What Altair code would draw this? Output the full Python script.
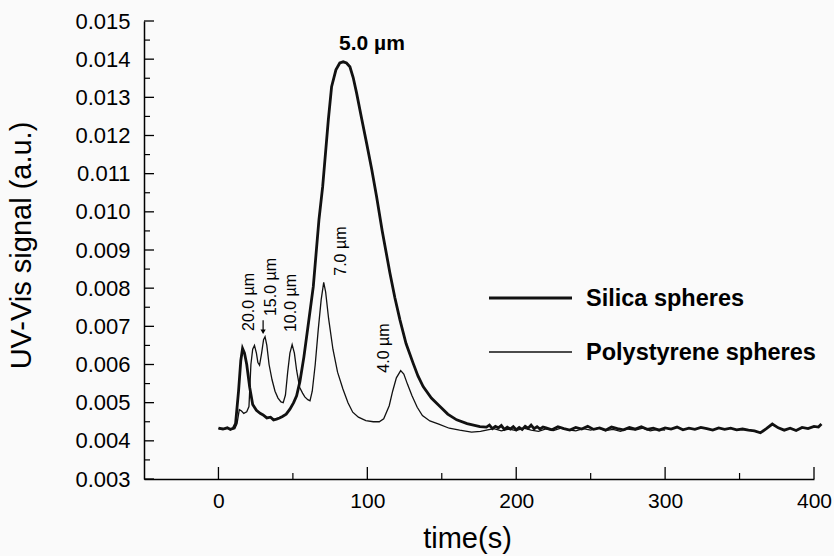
import altair as alt
import pandas as pd

# ---------------- data ----------------
silica_t = [0, 3, 6, 8, 10, 11.5, 13.5, 15, 16.2, 17.5, 19, 21, 23, 25.5, 28, 30, 32.5, 35, 37, 39,
            41, 43, 45.5, 48, 50.5, 52.5, 54.7, 57.4, 60.5, 63.7, 67.5, 70, 73.8, 76, 78.9, 81.5,
            83.8, 86, 88.3, 90.5, 92.8, 96, 99.5, 103, 106.2, 110, 115.2, 118.5, 121.9, 126, 130.8,
            134, 137.5, 143, 148.8, 154, 160, 167, 175.6,
            180, 182, 184, 186, 188, 190, 192, 194, 196, 198, 200, 202, 204, 206, 208, 210, 212, 214,
            216, 218, 220, 224, 228, 232, 236, 240, 244,
            248, 252, 256, 260, 264, 268, 272, 276, 280, 284, 288, 292, 296, 300, 304, 308, 312,
            316, 320, 324, 328, 332, 336, 340, 344, 348, 352, 356, 360, 364, 368, 372, 376, 380,
            384, 388, 392, 396, 400, 403, 405]
silica_v = [0.00433, 0.00431, 0.00434, 0.00430, 0.00433, 0.00445, 0.00530, 0.00610, 0.00642, 0.00630,
            0.00600, 0.00540, 0.00495, 0.00480, 0.00472, 0.00468, 0.00460, 0.00462, 0.00455, 0.00457,
            0.00460, 0.00464, 0.00470, 0.00483, 0.00500, 0.00518, 0.00555, 0.00620, 0.00710, 0.00804,
            0.00979, 0.01066, 0.01241, 0.01328, 0.01372, 0.01390, 0.01393, 0.01390, 0.01380, 0.01352,
            0.01311, 0.01248, 0.01180, 0.01110, 0.01040, 0.00950, 0.00839, 0.00775, 0.00717, 0.00655,
            0.00603, 0.00570, 0.00542, 0.00512, 0.00490, 0.00470, 0.00455, 0.00445, 0.00437,
            0.00436, 0.00441, 0.00432, 0.00438, 0.00434, 0.00440, 0.00430, 0.00436, 0.00431, 0.00437,
            0.00429, 0.00435, 0.00430, 0.00438, 0.00433, 0.00441, 0.00432, 0.00437, 0.00431, 0.00436,
            0.00434, 0.00429, 0.00437, 0.00432, 0.00428, 0.00435, 0.00431, 0.00438, 0.00430, 0.00434,
            0.00428, 0.00436, 0.00432, 0.00429, 0.00435, 0.00431, 0.00437, 0.00430, 0.00433, 0.00428,
            0.00434, 0.00431, 0.00436, 0.00429, 0.00433, 0.00430, 0.00435, 0.00432, 0.00428, 0.00434,
            0.00430, 0.00433, 0.00429, 0.00431, 0.00428, 0.00426, 0.00421, 0.00432, 0.00444, 0.00434,
            0.00428, 0.00433, 0.00427, 0.00435, 0.00432, 0.00438, 0.00436, 0.00444]

poly_t = [0, 3, 6, 9, 11, 12.5, 14, 15.5, 17, 19, 20.5, 21.8, 23, 24.2, 25.5, 26.5, 27.6, 29, 30.3,
          31.3, 32.5, 34, 36, 38, 40, 42, 43.5, 45, 46.5, 48, 49.5, 51, 52.5, 54.5, 56.5, 58, 60,
          61.5, 63, 65, 67, 69, 70.7, 72, 74, 76.9, 80, 83.6, 87, 90.2, 94, 99, 104, 108, 111,
          114.7, 117, 119.5, 122.4, 124.5, 127, 130, 133.5, 137, 142, 148, 155, 162, 170, 176,
          180, 185, 190, 195, 200, 205, 210, 215, 220, 225, 230, 235, 240, 245, 250, 255, 260,
          265, 270, 275, 280, 285, 290, 295, 300]
poly_v = [0.00432, 0.00430, 0.00433, 0.00431, 0.00432, 0.00445, 0.00482, 0.00478, 0.00472, 0.00476,
          0.00490, 0.00600, 0.00640, 0.00650, 0.00630, 0.00605, 0.00598, 0.00630, 0.00665, 0.00673,
          0.00650, 0.00600, 0.00560, 0.00530, 0.00512, 0.00502, 0.00500, 0.00520, 0.00580, 0.00630,
          0.00652, 0.00630, 0.00585, 0.00540, 0.00525, 0.00515, 0.00508, 0.00505, 0.00530, 0.00600,
          0.00690, 0.00770, 0.00815, 0.00790, 0.00720, 0.00640, 0.00580, 0.00536, 0.00500, 0.00475,
          0.00462, 0.00453, 0.00450, 0.00450, 0.00458, 0.00492, 0.00530, 0.00565, 0.00584, 0.00575,
          0.00548, 0.00518, 0.00488, 0.00466, 0.00452, 0.00444, 0.00433, 0.00428, 0.00423, 0.00425,
          0.00428, 0.00432, 0.00426, 0.00431, 0.00427, 0.00433, 0.00428, 0.00425, 0.00431, 0.00427,
          0.00433, 0.00429, 0.00426, 0.00432, 0.00428, 0.00434, 0.00427, 0.00430, 0.00425, 0.00431,
          0.00428, 0.00433, 0.00426, 0.00430, 0.00428]

x_major = [0, 100, 200, 300, 400]
x_minor = [50, 150, 250, 350]
y_major = [0.003, 0.004, 0.005, 0.006, 0.007, 0.008, 0.009, 0.010, 0.011, 0.012, 0.013, 0.014, 0.015]
y_minor = [0.0035, 0.0045, 0.0055, 0.0065, 0.0075, 0.0085, 0.0095, 0.0105, 0.0115, 0.0125, 0.0135, 0.0145]

ann_text = ["20.0 µm", "15.0 µm", "10.0 µm", "7.0 µm", "4.0 µm"]
ann_t = [20.5, 35.3, 48.7, 82.3, 111.1]
ann_v = [0.00764, 0.00803, 0.00761, 0.00897, 0.00643]

main_label = ["5.0 µm"]
main_t = [103.1]
main_v = [0.01440]

arrow_t = [30.0]
arrow_top = [0.00716]
arrow_tip = [0.00686]

legend_names = ["Silica spheres", "Polystyrene spheres"]

# ---------------- chart ----------------
FONT = "Liberation Sans"
xs = alt.Scale(domain=[-50, 400], nice=False, zero=False)
ys = alt.Scale(domain=[0.003, 0.015], nice=False, zero=False)

x_axis = alt.Axis(values=x_major, format="d", ticks=False, grid=False, domainColor="black",
                  domainWidth=1.5, labelFont=FONT, labelFontSize=21, labelColor="black",
                  labelPadding=11, labelFlush=False, labelOverlap=False, title="time(s)",
                  titleFont=FONT, titleFontSize=29, titleFontWeight="normal", titleColor="black",
                  titleX=323, titleY=68, titleBaseline="alphabetic")
y_axis = alt.Axis(values=y_major, format=".3f", ticks=False, grid=False, domainColor="black",
                  domainWidth=1.5, labelFont=FONT, labelFontSize=22, labelColor="black",
                  labelPadding=14, labelOverlap=False, labelFlush=False,
                  title="UV-Vis signal (a.u.)", titleFont=FONT,
                  titleFontSize=29, titleFontWeight="normal", titleColor="black",
                  titleX=-123, titleY=224, titleAngle=270, titleBaseline="middle",
                  titleAlign="center")

silica_df = pd.DataFrame({"t": silica_t, "v": silica_v})
poly_df = pd.DataFrame({"t": poly_t, "v": poly_v})

X = alt.X("t:Q", scale=xs, axis=x_axis)
Y = alt.Y("v:Q", scale=ys, axis=y_axis)

poly_line = alt.Chart(poly_df).mark_line(color="#111", strokeWidth=1.3, clip=False).encode(x=X, y=Y)
silica_line = alt.Chart(silica_df).mark_line(color="#111", strokeWidth=2.8, clip=False).encode(x=X, y=Y)

ytick_major = alt.Chart(pd.DataFrame({"v": y_major})).mark_rule(color="black", strokeWidth=1.3).encode(
    y=Y, x=alt.value(0), x2=alt.value(10))
ytick_minor = alt.Chart(pd.DataFrame({"v": y_minor})).mark_rule(color="black", strokeWidth=1.2).encode(
    y=Y, x=alt.value(0), x2=alt.value(6))
xtick_major = alt.Chart(pd.DataFrame({"t": x_major})).mark_rule(color="black", strokeWidth=1.3).encode(
    x=X, y=alt.value(458), y2=alt.value(446))
xtick_minor = alt.Chart(pd.DataFrame({"t": x_minor})).mark_rule(color="black", strokeWidth=1.2).encode(
    x=X, y=alt.value(458), y2=alt.value(452))

ann = alt.Chart(pd.DataFrame({"t": ann_t, "v": ann_v, "label": ann_text})).mark_text(
    angle=270, font=FONT, fontSize=16, color="black", align="center", baseline="middle").encode(
    x=X, y=Y, text="label:N")
main_ann = alt.Chart(pd.DataFrame({"t": main_t, "v": main_v, "label": main_label})).mark_text(
    font=FONT, fontSize=21, fontWeight="bold", color="black", align="center", baseline="middle").encode(
    x=X, y=Y, text="label:N")

arrow_df = pd.DataFrame({"t": arrow_t, "v": arrow_top, "v2": arrow_tip})
arrow_shaft = alt.Chart(arrow_df).mark_rule(color="black", strokeWidth=1.2).encode(
    x=X, y=Y, y2="v2:Q")
arrow_head = alt.Chart(arrow_df).mark_point(shape="triangle-down", filled=True, color="black",
                                            size=28, opacity=1).encode(
    x=X, y=alt.Y("v2:Q", scale=ys, axis=y_axis))

leg1_line = alt.Chart(pd.DataFrame({"name": [legend_names[0]]})).mark_rule(
    color="#111", strokeWidth=2.8).encode(x=alt.value(345), x2=alt.value(428), y=alt.value(277))
leg2_line = alt.Chart(pd.DataFrame({"name": [legend_names[1]]})).mark_rule(
    color="#111", strokeWidth=1.3).encode(x=alt.value(345), x2=alt.value(428), y=alt.value(331))
leg1_text = alt.Chart(pd.DataFrame({"name": [legend_names[0]]})).mark_text(
    font=FONT, fontSize=23.5, fontWeight="bold", color="black", align="left", baseline="middle").encode(
    x=alt.value(442), y=alt.value(278), text="name:N")
leg2_text = alt.Chart(pd.DataFrame({"name": [legend_names[1]]})).mark_text(
    font=FONT, fontSize=23.5, fontWeight="bold", color="black", align="left", baseline="middle").encode(
    x=alt.value(442), y=alt.value(332), text="name:N")

chart = alt.layer(
    poly_line, silica_line, ytick_major, ytick_minor, xtick_major, xtick_minor,
    ann, main_ann, arrow_shaft, arrow_head, leg1_line, leg2_line, leg1_text, leg2_text
).properties(
    width=670, height=458,
    autosize=alt.AutoSizeParams(type="none"),
    padding={"left": 144, "top": 21, "right": 20, "bottom": 77},
    background="#fafafa",
).configure_view(stroke=None).configure_axis(labelOverlap=False)

chart.save("out.html", embed_options={"renderer": "svg", "actions": False})
